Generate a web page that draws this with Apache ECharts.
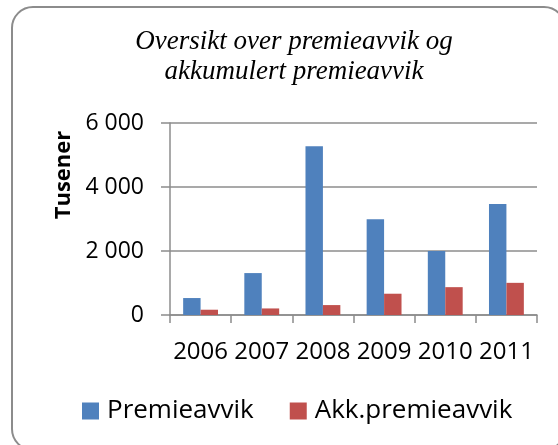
<!DOCTYPE html>
<html>
<head>
<meta charset="utf-8">
<script src="https://cdn.jsdelivr.net/npm/echarts@6/dist/echarts.min.js"></script>
<style>
  html, body { margin: 0; padding: 0; background: #fff; overflow: hidden; }
  #frame {
    position: absolute; left: 11px; top: 6px; width: 555px; height: 445px;
    border: 2px solid #8c8c8c; border-radius: 22px; box-sizing: border-box;
  }
  #chart { position: absolute; left: 0; top: 0; width: 558px; height: 445px; }
</style>
</head>
<body>
<div id="frame"></div>
<div id="chart"></div>
<script>
// data (thousands NOK)
var years = ['2006', '2007', '2008', '2009', '2010', '2011']
var premieavvik = [530, 1310, 5270, 2990, 2000, 3470]
var akkPremieavvik = [165, 205, 310, 665, 870, 1005]
var yTicks = [0, 2000, 4000, 6000]

var chart = echarts.init(document.getElementById('chart'))
chart.setOption({
  animation: false,
  title: {
    text: 'Oversikt over premieavvik og\nakkumulert premieavvik',
    left: 289,
    textAlign: 'center',
    top: 22,
    textStyle: {
      fontFamily: 'Liberation Serif',
      fontStyle: 'italic',
      fontWeight: 'normal',
      fontSize: 27,
      lineHeight: 30,
      color: '#000'
    }
  },
  legend: {
    data: ['Premieavvik', 'Akk.premieavvik'],
    left: 77,
    top: 393,
    icon: 'rect',
    itemWidth: 17,
    itemHeight: 17,
    itemGap: 36,
    textStyle: { fontFamily: 'Open Sans', fontSize: 26, color: '#000', padding: [0, 0, 0, 3] }
  },
  graphic: [{
    type: 'text',
    x: 64,
    y: 175,
    rotation: Math.PI / 2,
    style: {
      text: 'Tusener',
      font: 'bold 22px "Open Sans"',
      fill: '#000',
      align: 'center',
      verticalAlign: 'middle'
    }
  }],
  grid: { left: 170, right: 21, top: 123, bottom: 130 },
  xAxis: {
    type: 'category',
    data: years,
    boundaryGap: true,
    axisLine: { lineStyle: { color: '#8c8c8c', width: 1.5 } },
    axisTick: { show: true, length: 8, lineStyle: { color: '#8c8c8c', width: 1.5 } },
    axisLabel: { fontFamily: 'Open Sans', fontSize: 24, color: '#000', margin: 25, interval: 0 }
  },
  yAxis: {
    type: 'value',
    min: yTicks[0],
    max: yTicks[yTicks.length - 1],
    interval: 2000,
    axisLine: { show: true, lineStyle: { color: '#8c8c8c', width: 1.5 } },
    axisTick: { show: true, length: 9, lineStyle: { color: '#8c8c8c', width: 1.5 } },
    splitLine: { lineStyle: { color: '#8c8c8c', width: 1.5 } },
    axisLabel: {
      fontFamily: 'Open Sans', fontSize: 23, color: '#000', margin: 26,
      formatter: function (v) { return String(v).replace(/\B(?=(\d{3})+(?!\d))/g, ' ') }
    }
  },
  series: [
    {
      name: 'Premieavvik', type: 'bar', data: premieavvik,
      barGap: '0%', barCategoryGap: '43%',
      itemStyle: { color: '#4F81BD' }
    },
    {
      name: 'Akk.premieavvik', type: 'bar', data: akkPremieavvik,
      itemStyle: { color: '#C0504D' }
    }
  ]
})
</script>
</body>
</html>
